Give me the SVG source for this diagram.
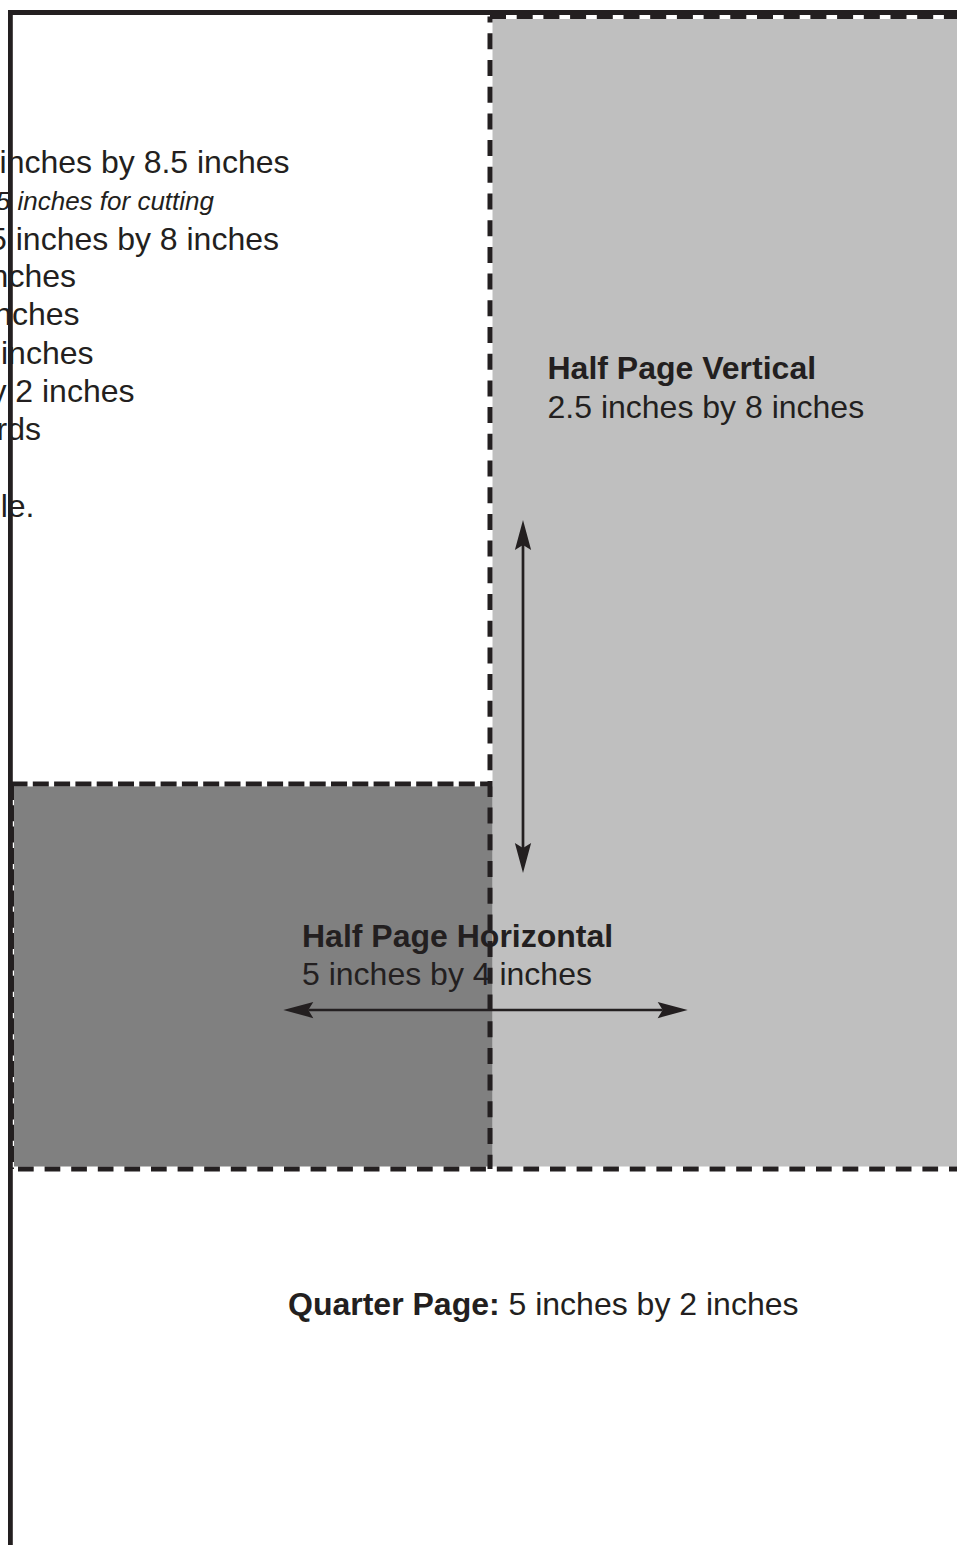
<svg xmlns="http://www.w3.org/2000/svg" width="957" height="1545" viewBox="0 0 957 1545">
<style>
text{font-family:"Liberation Sans",Arial,sans-serif;fill:#231f20;font-size:32px}
.b{font-weight:bold}
.it{font-style:italic;font-size:26px}
.e{text-anchor:end}
.dash{fill:none;stroke:#231f20;stroke-width:5}
.d1{stroke-dasharray:16 10.7}
.d2{stroke-dasharray:16 5.3}
.frame{fill:none;stroke:#231f20;stroke-width:4.8}
.arrow{fill:none;stroke:#231f20;stroke-width:2.7}
</style>
<defs>
<marker id="ah" markerUnits="userSpaceOnUse" markerWidth="40" markerHeight="20" viewBox="-6 -8 30 16" refX="0" refY="0" orient="auto-start-reverse" overflow="visible">
<path d="M-4,-6.5 L20,0 L-4,6.5 L0,0 Z" fill="#231f20"/>
</marker>
</defs>
<rect width="957" height="1545" fill="#ffffff"/>
<g id="half-page-vertical">
<rect x="492.5" y="19" width="470" height="1147.5" fill="#bfbfbf"/>
<text class="b" x="547.5" y="378.5">Half Page Vertical</text>
<text x="547.5" y="417.5">2.5 inches by 8 inches</text>
</g>
<g id="half-page-horizontal">
<rect x="14" y="786.5" width="478.5" height="380" fill="#808080"/>
<text class="b" x="302" y="947">Half Page Horizontal</text>
<text x="302" y="984.5">5 inches by 4 inches</text>
</g>
<g id="full-page-text">
<text class="e" x="289.5" y="173.3">inches by 8.5 inches</text>
<text class="it e" x="214" y="210">5 inches for cutting</text>
<text class="e" x="279" y="250">5 inches by 8 inches</text>
<text class="e" x="76" y="287">nches</text>
<text class="e" x="79.5" y="325">nches</text>
<text class="e" x="93.5" y="363.5">inches</text>
<text class="e" x="134.5" y="402">y 2 inches</text>
<text class="e" x="41" y="440">rds</text>
<text class="e" x="34.5" y="517">le.</text>
</g>
<g id="quarter-page">
<text x="288" y="1315"><tspan class="b">Quarter Page:</tspan> 5 inches by 2 inches</text>
</g>
<g id="borders">
<line class="dash d1" x1="490" y1="16.5" x2="960" y2="16.5"/>
<line class="dash d1" x1="490" y1="16.5" x2="490" y2="1169" stroke-dashoffset="9.9"/>
<line class="dash d2" x1="11.5" y1="784" x2="490" y2="784"/>
<line class="dash d2" x1="11.5" y1="784" x2="11.5" y2="1169"/>
<line class="dash" style="stroke-dasharray:15.7 10.9" x1="12" y1="1169" x2="960" y2="1169" stroke-dashoffset="-6"/>
<path id="frame" class="frame" d="M10.4,1550 V12.5 H960"/>
</g>
<g id="connectors">
<line class="arrow" x1="523" y1="545" x2="523" y2="848" marker-start="url(#ah)" marker-end="url(#ah)"/>
<line class="arrow" x1="308.3" y1="1010" x2="662.7" y2="1010" marker-start="url(#ah)" marker-end="url(#ah)"/>
</g>
</svg>
